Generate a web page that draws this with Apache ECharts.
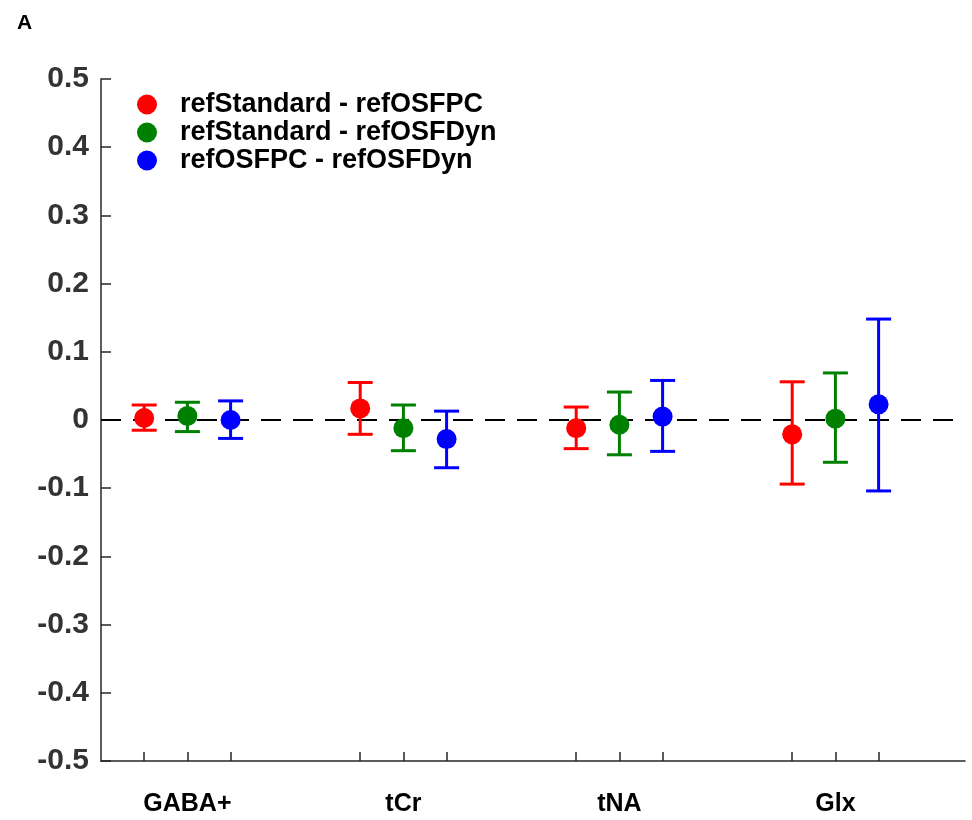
<!DOCTYPE html>
<html>
<head>
<meta charset="utf-8">
<script src="https://cdn.jsdelivr.net/npm/echarts@6/dist/echarts.min.js"></script>
<style>html,body{margin:0;padding:0;background:#fff}#c{width:972px;height:820px}</style>
</head>
<body>
<div id="c"></div>
<script>
const groupNames = ['GABA+', 'tCr', 'tNA', 'Glx'];
const seriesNames = ['refStandard - refOSFPC', 'refStandard - refOSFDyn', 'refOSFPC - refOSFDyn'];
const seriesColors = ['#ff0000', '#008000', '#0000ff'];
const groupOffsets = [-0.2, 0, 0.2];

const stdPCMean = [0.003, 0.017, -0.012, -0.021];
const stdPCLow  = [-0.015, -0.021, -0.042, -0.094];
const stdPCHigh = [0.022, 0.055, 0.019, 0.056];

const stdDynMean = [0.006, -0.012, -0.007, 0.002];
const stdDynLow  = [-0.017, -0.045, -0.051, -0.062];
const stdDynHigh = [0.026, 0.022, 0.041, 0.069];

const pcDynMean = [0.000, -0.028, 0.005, 0.023];
const pcDynLow  = [-0.027, -0.070, -0.046, -0.104];
const pcDynHigh = [0.028, 0.013, 0.058, 0.148];

const yMin = -0.5, yMax = 0.5, yStep = 0.1;
const xMin = 0.6, xMax = 4.6, xSlot = 0.2;

const means = [stdPCMean, stdDynMean, pcDynMean];
const lows = [stdPCLow, stdDynLow, pcDynLow];
const highs = [stdPCHigh, stdDynHigh, pcDynHigh];

// category slots for tick placement
const nSlots = Math.round((xMax - xMin) / xSlot) + 1;
const slots = [];
for (let i = 0; i < nSlots; i++) slots.push('s' + i);
const tickSet = new Set();
const labelMap = {};
groupNames.forEach((g, gi) => {
  groupOffsets.forEach(off => {
    tickSet.add(Math.round((gi + 1 + off - xMin) / xSlot));
  });
  labelMap[Math.round((gi + 1 - xMin) / xSlot)] = g;
});

const chart = echarts.init(document.getElementById('c'));
const series = [];
seriesNames.forEach((name, si) => {
  const pts = groupNames.map((g, gi) => [gi + 1 + groupOffsets[si], means[si][gi], lows[si][gi], highs[si][gi]]);
  series.push({
    type: 'custom',
    name: name + ' err',
    xAxisIndex: 0,
    z: 3,
    silent: true,
    data: pts,
    encode: { x: 0, y: [1, 2, 3] },
    renderItem: function (params, api) {
      const x = api.value(0);
      const lo = api.coord([x, api.value(2)]);
      const hi = api.coord([x, api.value(3)]);
      const hw = 12.5;
      const st = { stroke: seriesColors[si], lineWidth: 3, fill: null };
      return {
        type: 'group',
        children: [
          { type: 'line', shape: { x1: lo[0], y1: lo[1], x2: hi[0], y2: hi[1] }, style: st },
          { type: 'line', shape: { x1: lo[0] - hw, y1: lo[1], x2: lo[0] + hw, y2: lo[1] }, style: st },
          { type: 'line', shape: { x1: hi[0] - hw, y1: hi[1], x2: hi[0] + hw, y2: hi[1] }, style: st }
        ]
      };
    }
  });
});
seriesNames.forEach((name, si) => {
  const s = {
    type: 'scatter',
    name: name,
    xAxisIndex: 0,
    z: 4,
    symbol: 'circle',
    symbolSize: 20,
    itemStyle: { color: seriesColors[si], opacity: 1 },
    data: groupNames.map((g, gi) => [gi + 1 + groupOffsets[si], means[si][gi]])
  };
  if (si === 0) {
    s.markLine = {
      silent: true,
      symbol: ['none', 'none'],
      label: { show: false },
      animation: false,
      z: 2,
      lineStyle: { color: '#000', width: 2, type: [20, 12] },
      data: [{ yAxis: 0 }]
    };
  }
  series.push(s);
});

chart.setOption({
  animation: false,
  title: {
    text: 'A', left: 12, top: 8,
    textStyle: { fontFamily: 'Liberation Sans', fontWeight: 'bold', fontSize: 21, color: '#000' }
  },
  grid: { left: 101, right: 7, top: 79, bottom: 59, containLabel: false },
  legend: {
    orient: 'vertical',
    left: 132, top: 86,
    itemWidth: 20, itemHeight: 20, itemGap: 1,
    icon: 'circle',
    data: seriesNames,
    textStyle: { fontFamily: 'Liberation Sans', fontWeight: 'bold', fontSize: 27, color: '#000', lineHeight: 25, padding: [0, 0, 0, 18] }
  },
  xAxis: [
    { type: 'value', min: xMin, max: xMax, show: false, position: 'bottom' },
    {
      type: 'category', data: slots, boundaryGap: false, position: 'bottom',
      axisLine: { show: true, lineStyle: { color: '#262626', width: 1.5 } },
      axisTick: { show: true, inside: true, length: 9, interval: (idx) => tickSet.has(idx), lineStyle: { color: '#262626', width: 1.5 } },
      axisLabel: {
        show: true, interval: (idx) => labelMap[idx] !== undefined,
        formatter: (v, idx) => labelMap[idx] || '',
        margin: 31, fontFamily: 'Liberation Sans', fontWeight: 'bold', fontSize: 25, color: '#000'
      },
      splitLine: { show: false }
    }
  ],
  yAxis: {
    type: 'value', min: yMin, max: yMax, interval: yStep,
    axisLine: { show: true, lineStyle: { color: '#262626', width: 1.5 } },
    axisTick: { show: true, inside: true, length: 10, lineStyle: { color: '#262626', width: 1.5 } },
    axisLabel: {
      margin: 12, fontFamily: 'Liberation Sans', fontWeight: 'bold', fontSize: 30, color: '#333',
      formatter: v => String(parseFloat(v.toFixed(1)))
    },
    splitLine: { show: false }
  },
  series: series
});
</script>
</body>
</html>
